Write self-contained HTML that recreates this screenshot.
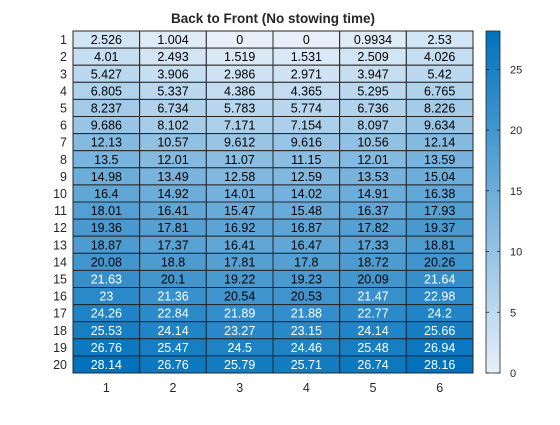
<!DOCTYPE html>
<html><head><meta charset="utf-8"><style>
body{margin:0;background:#fff;width:560px;height:420px;overflow:hidden}
svg text{font-family:"Liberation Sans",sans-serif}
</style></head><body>
<svg id="c" width="560" height="420" xmlns="http://www.w3.org/2000/svg">
<text x="273" y="23" text-anchor="middle" font-size="13.5" font-weight="bold" fill="#262626">Back to Front (No stowing time)</text>
<g id="cells"></g>
<g id="cbar"></g>
</svg>
<script>
const xCategories=["1","2","3","4","5","6"];
const yCategories=["1","2","3","4","5","6","7","8","9","10","11","12","13","14","15","16","17","18","19","20"];
const row1=[2.526,1.004,0,0,0.9934,2.53];
const row2=[4.01,2.493,1.519,1.531,2.509,4.026];
const row3=[5.427,3.906,2.986,2.971,3.947,5.42];
const row4=[6.805,5.337,4.386,4.365,5.295,6.765];
const row5=[8.237,6.734,5.783,5.774,6.736,8.226];
const row6=[9.686,8.102,7.171,7.154,8.097,9.634];
const row7=[12.13,10.57,9.612,9.616,10.56,12.14];
const row8=[13.5,12.01,11.07,11.15,12.01,13.59];
const row9=[14.98,13.49,12.58,12.59,13.53,15.04];
const row10=[16.4,14.92,14.01,14.02,14.91,16.38];
const row11=[18.01,16.41,15.47,15.48,16.37,17.93];
const row12=[19.36,17.81,16.92,16.87,17.82,19.37];
const row13=[18.87,17.37,16.41,16.47,17.33,18.81];
const row14=[20.08,18.8,17.81,17.8,18.72,20.26];
const row15=[21.63,20.1,19.22,19.23,20.09,21.64];
const row16=[23,21.36,20.54,20.53,21.47,22.98];
const row17=[24.26,22.84,21.89,21.88,22.77,24.2];
const row18=[25.53,24.14,23.27,23.15,24.14,25.66];
const row19=[26.76,25.47,24.5,24.46,25.48,26.94];
const row20=[28.14,26.76,25.79,25.71,26.74,28.16];
const values=[row1,row2,row3,row4,row5,row6,row7,row8,row9,row10,row11,row12,row13,row14,row15,row16,row17,row18,row19,row20];
const colorbarTicks=[0,5,10,15,20,25];

const NS="http://www.w3.org/2000/svg";
const L=73,R=473,T=31,B=373;
const all=values.flat();const vmin=Math.min(...all),vmax=Math.max(...all);
const cw=(R-L)/xCategories.length,ch=(B-T)/yCategories.length;
const xPos=i=>L+i*cw, yPos=j=>T+j*ch;
function color(v){const t=(v-vmin)/(vmax-vmin);const a=[231,240,250],b=[0,114,189];
return `rgb(${a.map((c,k)=>Math.round(c+(b[k]-c)*t)).join(',')})`;}
function mk(tag,attrs,parent){const e=document.createElementNS(NS,tag);for(const k in attrs)e.setAttribute(k,attrs[k]);parent.appendChild(e);return e;}
const svg=document.getElementById('c'),cells=document.getElementById('cells'),cb=document.getElementById('cbar');
values.forEach((row,j)=>row.forEach((v,i)=>{
 const r=mk('rect',{x:xPos(i),y:yPos(j),width:cw,height:ch,fill:color(v),stroke:'#262626','stroke-width':1},cells);
 
 
 const t=mk('text',{x:xPos(i)+cw/2,y:yPos(j)+ch/2+4.5,'text-anchor':'middle','font-size':12.5,fill:v>21?'#fff':'#000'},cells);
 t.textContent=String(v);
 
 
}));
yCategories.forEach((c,j)=>{const t=mk('text',{x:L-6,y:yPos(j)+ch/2+4.5,'text-anchor':'end','font-size':12.5,fill:'#262626'},svg);t.textContent=c;
 
 });
xCategories.forEach((c,i)=>{const t=mk('text',{x:xPos(i)+cw/2,y:B+19,'text-anchor':'middle','font-size':12.5,fill:'#262626'},svg);t.textContent=c;
 
 });
const CL=486,CR=500;const cy=v=>B-(v-vmin)/(vmax-vmin)*(B-T);
const defs=mk('defs',{},svg);const g=mk('linearGradient',{id:'gr',x1:0,y1:1,x2:0,y2:0},defs);
mk('stop',{offset:0,'stop-color':color(vmin)},g);mk('stop',{offset:1,'stop-color':color(vmax)},g);
const cr=mk('rect',{x:CL,y:T,width:CR-CL,height:B-T,fill:'url(#gr)',stroke:'#262626','stroke-width':0.8},cb);


colorbarTicks.forEach(v=>{const y=cy(v);
 mk('line',{x1:CR-3,x2:CR,y1:y,y2:y,stroke:'#262626','stroke-width':0.8},cb);
 mk('line',{x1:CL,x2:CL+3,y1:y,y2:y,stroke:'#262626','stroke-width':0.8},cb);
 const t=mk('text',{x:CR+10,y:y+4,'font-size':11,fill:'#262626'},cb);t.textContent=v;
 
 });
</script>
</body></html>
